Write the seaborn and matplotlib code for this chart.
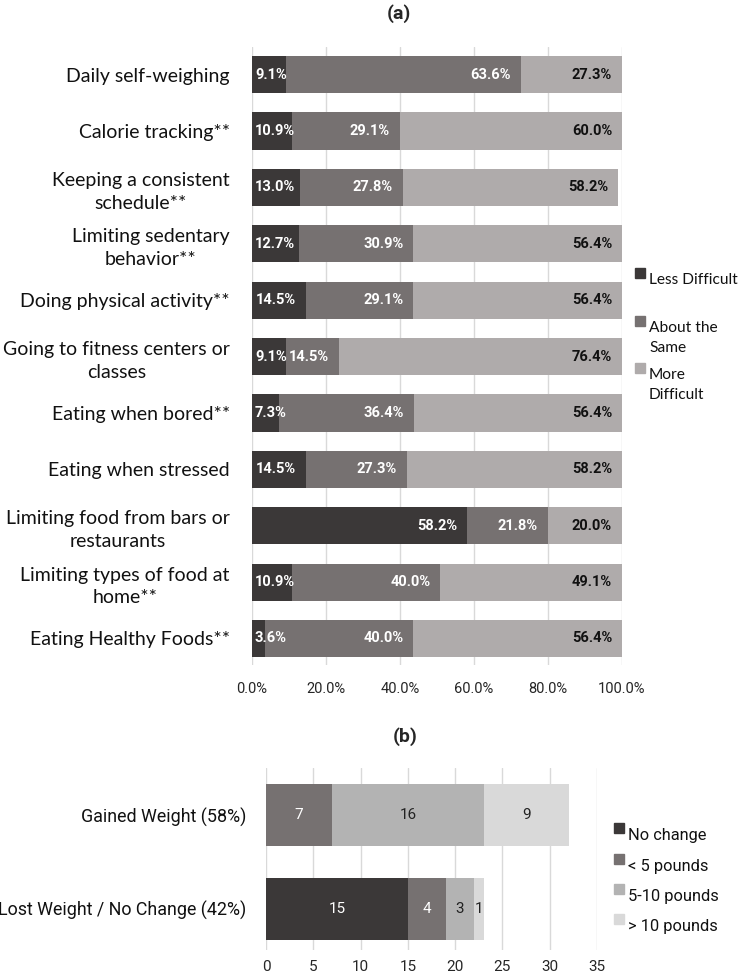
import matplotlib
matplotlib.use("Agg")
import numpy as np
import seaborn as sns
from matplotlib import pyplot as plt
from matplotlib.patches import Rectangle

# panel (a): change in difficulty of weight-related behaviours
behaviors = [
    "Daily self-weighing",
    "Calorie tracking**",
    "Keeping a consistent\nschedule**",
    "Limiting sedentary\nbehavior**",
    "Doing physical activity**",
    "Going to fitness centers or\nclasses",
    "Eating when bored**",
    "Eating when stressed",
    "Limiting food from bars or\nrestaurants",
    "Limiting types of food at\nhome**",
    "Eating Healthy Foods**",
]
less_difficult = [9.1, 10.9, 13.0, 12.7, 14.5, 9.1, 7.3, 14.5, 58.2, 10.9, 3.6]
about_same = [63.6, 29.1, 27.8, 30.9, 29.1, 14.5, 36.4, 27.3, 21.8, 40.0, 40.0]
more_difficult = [27.3, 60.0, 58.2, 56.4, 56.4, 76.4, 56.4, 58.2, 20.0, 49.1, 56.4]
difficulty_levels = ["Less Difficult", "About the\nSame", "More\nDifficult"]
pct_ticks = [0, 20, 40, 60, 80, 100]

# panel (b): weight change
weight_groups = ["Gained Weight (58%)", "Lost Weight / No Change (42%)"]
no_change = [0, 15]
under_5 = [7, 4]
five_to_ten = [16, 3]
over_10 = [9, 1]
weight_levels = ["No change", "< 5 pounds", "5-10 pounds", "> 10 pounds"]
count_ticks = [0, 5, 10, 15, 20, 25, 30, 35]

DARK, MID, LIGHT, PALE = "#3b3838", "#767171", "#afabab", "#d9d9d9"
GRID = "#d9d9d9"
LABEL_FONT = ["Lato", "DejaVu Sans"]
NUM_FONT = ["Roboto", "DejaVu Sans"]

sns.set_theme(style="white")
plt.rcParams["font.family"] = NUM_FONT


def stacked_bars(ax, cats, parts, colors):
    cum = np.cumsum(np.array(parts, dtype=float), axis=0)
    # draw the longest stack first, then overdraw the shorter ones
    for i in range(len(parts) - 1, -1, -1):
        sns.barplot(x=cum[i], y=cats, color=colors[i], orient="h", width=0.66,
                    saturation=1, linewidth=0, errorbar=None, ax=ax)
    return cum


def legend_block(fig, entries, x, ys, size, font, spacing):
    for (label, color), y in zip(entries, ys):
        fig.patches.append(Rectangle((x / 741, 1 - (y + 5) / 980), 10 / 741, 10 / 980,
                                     transform=fig.transFigure, color=color))
        fig.text((x + 14) / 741, 1 - y / 980, label, ha="left", va="top",
                 fontsize=size, family=font, color="#111111", linespacing=spacing)


fig = plt.figure(figsize=(7.41, 9.8), dpi=100)

# ---------------- (a) ----------------
ax1 = fig.add_axes([252 / 741, 1 - 665 / 980, 370 / 741, 618 / 980])
parts_a = [less_difficult, about_same, more_difficult]
stacked_bars(ax1, behaviors, parts_a, [DARK, MID, LIGHT])
ax1.set_xlim(0, 100)
ax1.set_ylim(10.47, -0.49)
ax1.set_xticks(pct_ticks)
ax1.set_xticklabels([f"{t:.1f}%" for t in pct_ticks], fontsize=10.5, family=NUM_FONT)
ax1.set_xlabel("")
ax1.set_ylabel("")
ax1.grid(axis="x", color=GRID, lw=1)
ax1.set_axisbelow(True)
sns.despine(ax=ax1, left=True, bottom=True)
ax1.tick_params(axis="x", length=0, pad=12)
ax1.tick_params(axis="y", length=0, pad=16)
for t in ax1.get_yticklabels():
    t.set_fontsize(14)
    t.set_family(LABEL_FONT)
    t.set_multialignment("center")
    t.set_linespacing(1.4)
    t.set_color("#111111")

text_colors = ["white", "white", "#111111"]
for i in range(len(behaviors)):
    start = 0.0
    for vals, tc in zip(parts_a, text_colors):
        v = vals[i]
        end = start + v
        txt = f"{v:.1f}%"
        w = 2.0 * len(txt)
        xr = end - 2.7
        if xr - w < 0.8:
            ax1.text(start + 0.8, i, txt, ha="left", va="center", color=tc,
                     fontsize=10.5, fontweight="bold", family=NUM_FONT, clip_on=True)
        else:
            ax1.text(xr, i, txt, ha="right", va="center", color=tc,
                     fontsize=10.5, fontweight="bold", family=NUM_FONT)
        start = end

fig.text(399 / 741, 1 - 14 / 980, "(a)", ha="center", va="center",
         fontsize=14, fontweight="bold", family=NUM_FONT)
legend_block(fig, list(zip(difficulty_levels, [DARK, MID, LIGHT])), 635,
             [273, 321, 368], 11.2, LABEL_FONT, 1.5)

# ---------------- (b) ----------------
ax2 = fig.add_axes([266 / 741, 1 - 950 / 980, 331 / 741, 182 / 980])
parts_b = [no_change, under_5, five_to_ten, over_10]
stacked_bars(ax2, weight_groups, parts_b, [DARK, MID, "#b3b3b3", PALE])
ax2.set_xlim(0, 35)
ax2.set_ylim(1.44, -0.5)
ax2.set_xticks(count_ticks)
ax2.set_xticklabels([str(t) for t in count_ticks], fontsize=11, family=NUM_FONT)
ax2.set_xlabel("")
ax2.set_ylabel("")
ax2.grid(axis="x", color=GRID, lw=1)
ax2.set_axisbelow(True)
sns.despine(ax=ax2, left=True, bottom=True)
ax2.tick_params(axis="x", length=0, pad=7)
ax2.tick_params(axis="y", length=0, pad=14)
for t in ax2.get_yticklabels():
    t.set_fontsize(12.9)
    t.set_family(NUM_FONT)
    t.set_color("#111111")

text_colors_b = ["white", "white", "#222222", "#222222"]
for i in range(len(weight_groups)):
    start = 0
    for vals, tc in zip(parts_b, text_colors_b):
        v = vals[i]
        if v > 0:
            ax2.text(start + v / 2, i, str(v), ha="center", va="center",
                     color=tc, fontsize=11, family=NUM_FONT)
        start += v

fig.text(405 / 741, 1 - 737 / 980, "(b)", ha="center", va="center",
         fontsize=14, fontweight="bold", family=NUM_FONT)
legend_block(fig, list(zip(weight_levels, [DARK, MID, "#b3b3b3", PALE])), 614,
             [828, 859, 889, 919], 11.8, NUM_FONT, 1.2)

fig.savefig("out.png", dpi=100, facecolor="white")
